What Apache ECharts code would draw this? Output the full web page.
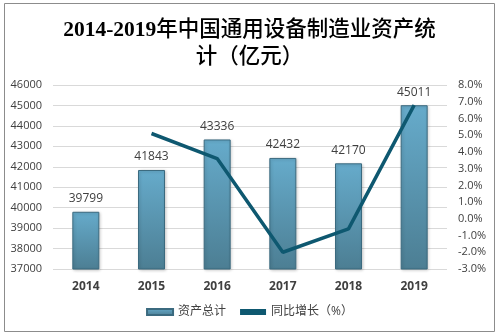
<!DOCTYPE html>
<html>
<head>
<meta charset="utf-8">
<script src="https://cdn.jsdelivr.net/npm/echarts@6/dist/echarts.min.js"></script>
<style>
  html, body { margin: 0; padding: 0; background: #fff; }
  #chart { width: 499px; height: 336px; }
</style>
</head>
<body>
<div id="chart"></div>
<script>
// Years on the category axis
const years = ['2014', '2015', '2016', '2017', '2018', '2019'];
// Total assets (100 million yuan)
const assets = [39799, 41843, 43336, 42432, 42170, 45011];
// Year-on-year growth (%), no value for the first year
const growth = [null, 5.1, 3.6, -2.0, -0.6, 6.8];

const chart = echarts.init(document.getElementById('chart'), null, { renderer: 'canvas' });

const textColor = '#404040';
const latin = '"Open Sans", "Noto Sans CJK SC", sans-serif';
const titleFont = '"Liberation Serif", "Noto Sans CJK SC", serif';

chart.setOption({
  animation: false,
  backgroundColor: '#fff',
  title: {
    text: '{d|2014-2019}{c|年中国通用设备制造业资产统}\n{c|计（亿元）}',
    left: 'center',
    top: 12,
    textStyle: {
      fontFamily: titleFont,
      fontSize: 21.5,
      color: '#000',
      lineHeight: 27,
      rich: {
        d: { fontFamily: titleFont, fontSize: 21.5, fontWeight: 'bold', color: '#000', lineHeight: 27 },
        c: { fontFamily: titleFont, fontSize: 21.5, fontWeight: 500, color: '#000', lineHeight: 27 }
      }
    }
  },
  graphic: [{
    type: 'rect',
    shape: { x: 4.5, y: 3.5, width: 490, height: 328 },
    style: { fill: 'none', stroke: '#8c8c8c', lineWidth: 1 },
    silent: true
  }],
  legend: {
    bottom: 13,
    left: 'center',
    itemGap: 14,
    itemWidth: 26,
    itemHeight: 6,
    textStyle: { color: textColor, fontSize: 12, fontFamily: latin },
    data: [
      { name: '资产总计', icon: 'rect' },
      { name: '同比增长（%）', icon: 'rect', itemStyle: { color: '#0e5870' } }
    ]
  },
  grid: { left: 53, right: 52, top: 85, bottom: 67 },
  xAxis: {
    type: 'category',
    data: years,
    axisLine: { show: false },
    axisTick: { show: false },
    axisLabel: {
      color: textColor, fontSize: 12, fontWeight: 'bold',
      fontFamily: latin, margin: 12
    }
  },
  yAxis: [{
    type: 'value',
    min: 37000, max: 46000, interval: 1000,
    axisLine: { show: false },
    axisTick: { show: false },
    axisLabel: {
      color: textColor, fontSize: 11, fontFamily: latin, margin: 11,
      formatter: v => String(v)
    },
    splitLine: { lineStyle: { color: '#d9d9d9', width: 1 } }
  }, {
    type: 'value',
    min: -3, max: 8, interval: 1,
    axisLine: { show: false },
    axisTick: { show: false },
    axisLabel: {
      color: textColor, fontSize: 11, fontFamily: latin, margin: 11,
      formatter: v => v.toFixed(1) + '%'
    },
    splitLine: { show: false }
  }],
  series: [{
    name: '资产总计',
    type: 'bar',
    data: assets,
    barWidth: 27,
    itemStyle: {
      color: new echarts.graphic.LinearGradient(0, 0, 0, 1, [
        { offset: 0, color: '#66abcb' },
        { offset: 1, color: '#4c7e93' }
      ]),
      borderColor: '#3b6a7f',
      borderWidth: 1,
      shadowColor: 'rgba(0,0,0,0.2)',
      shadowBlur: 3,
      shadowOffsetX: 1,
      shadowOffsetY: 1
    },
    label: {
      show: true, position: 'top', distance: 7,
      color: textColor, fontSize: 12, fontFamily: latin
    }
  }, {
    name: '同比增长（%）',
    type: 'line',
    yAxisIndex: 1,
    data: growth,
    symbol: 'none',
    lineStyle: { color: '#0e5870', width: 3.5 },
    itemStyle: { color: '#0e5870' }
  }]
});
</script>
</body>
</html>
